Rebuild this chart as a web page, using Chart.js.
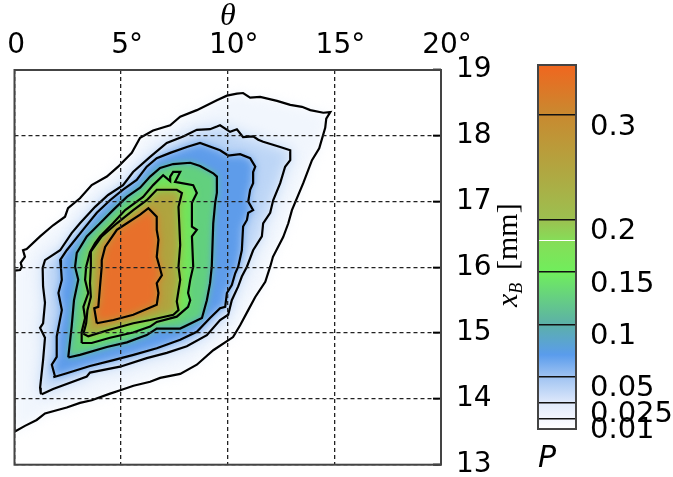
<!DOCTYPE html>
<html>
<head>
<meta charset="utf-8">
<script src="https://cdn.jsdelivr.net/npm/chart.js@4"></script>
<style>
  body { margin: 0; background: #fff; }
  canvas { position: absolute; top: 0; }
  #main { left: 0; }
  #bar { left: 530px; }
</style>
</head>
<body>
<canvas id="main" width="530" height="477"></canvas>
<canvas id="bar" width="143" height="477"></canvas>
<script>
// axes
const thetaTicks = [0, 5, 10, 15, 20];
const thetaLabels = ['0\u00a0', '5°', '10°', '15°', '20°'];
const xbTicks = [13, 14, 15, 16, 17, 18, 19];

// colour bar
const barTicks = [0.01, 0.025, 0.05, 0.1, 0.15, 0.2, 0.3];
const barMax = 0.348;
const barStops = [0, 0.01, 0.025, 0.05, 0.071, 0.1, 0.15, 0.1795, 0.1795, 0.1805, 0.1805, 0.2, 0.3, 0.348];
const barColors = ['#ffffff', '#f3f6fe', '#dfe9fb', '#9fc3f2', '#5a9cec', '#5cb0a8', '#70ee5c', '#86dd58', '#ffffff', '#ffffff', '#86dd58', '#9cc050', '#c88a30', '#f0661f'];

// contours as [theta, xB]
const contour010 = [[0,13.5],[0.49,13.59],[1.04,13.68],[1.43,13.78],[2.45,13.87],[3.07,13.94],[3.62,13.98],[4.48,14.08],[5.03,14.14],[5.58,14.2],[6.36,14.26],[6.83,14.32],[7.77,14.38],[8.55,14.52],[9.32,14.74],[10.25,14.94],[10.58,15.12],[10.96,15.35],[11.29,15.55],[11.76,15.78],[11.99,16.01],[12.12,16.16],[12.6,16.46],[12.84,16.67],[13.01,16.87],[13.54,17.28],[13.95,17.63],[14.29,17.81],[14.57,18.12],[14.62,18.26],[14.81,18.36],[14.48,18.35],[13.87,18.39],[13.48,18.44],[12.93,18.47],[12.31,18.53],[11.52,18.59],[11.05,18.58],[10.72,18.65],[10.43,18.64],[9.96,18.61],[9.49,18.54],[8.55,18.39],[7.77,18.29],[7.3,18.16],[6.5,18.08],[5.89,17.97],[5.5,17.74],[4.86,17.53],[4.33,17.38],[3.62,17.25],[3.07,17.05],[2.51,16.9],[2.37,16.77],[1.81,16.64],[1.2,16.47],[0.57,16.28],[0.4,16.26],[0.49,16.16],[0.29,16.07],[0.34,16.01],[0.26,15.96],[0,15.95]];
const contour025 = [[1.28,14.07],[1.81,14.15],[3.39,14.34],[3.54,14.4],[4.95,14.49],[6.2,14.62],[7.14,14.7],[8.08,14.8],[9.02,14.97],[9.64,15.2],[10.02,15.28],[10.19,15.5],[10.49,15.71],[10.66,15.86],[10.9,16.01],[11.19,16.26],[11.6,16.47],[11.66,16.67],[11.99,16.83],[12.13,17.02],[12.46,17.28],[12.69,17.53],[12.93,17.63],[12.93,17.78],[12.46,17.83],[11.66,17.91],[11.43,17.94],[11.19,17.99],[10.72,17.98],[10.43,18.1],[10.11,18.06],[9.64,18.16],[9.49,18.14],[9.17,18.1],[8.55,18.09],[7.91,17.99],[7.14,17.89],[6.36,17.68],[5.56,17.45],[5.09,17.25],[4.39,17.1],[3.78,16.92],[3.07,16.67],[2.68,16.52],[2.14,16.26],[1.43,16.11],[1.32,15.99],[1.34,15.71],[1.43,15.46],[1.34,15.15],[1.2,15.08],[1.43,14.93],[1.34,14.59],[1.2,14.17],[1.23,14.09]];
const contour050 = [[1.82,14.33],[2.45,14.39],[3.54,14.5],[4.64,14.59],[5.58,14.67],[6.67,14.77],[7.77,14.9],[8.55,15.02],[9.17,15.23],[9.64,15.38],[9.88,15.4],[9.96,15.61],[10.19,15.73],[10.35,15.91],[10.49,16.01],[10.66,16.26],[10.72,16.62],[10.9,16.72],[10.96,16.83],[11.19,16.87],[10.96,17],[11.05,17.18],[11.19,17.28],[11.19,17.45],[11.29,17.53],[11.05,17.66],[10.58,17.72],[10.02,17.7],[9.64,17.78],[8.7,17.89],[8.08,17.83],[7.3,17.74],[6.67,17.66],[6.2,17.53],[5.73,17.33],[5.09,17.18],[4.48,17.02],[3.86,16.83],[3.21,16.57],[2.45,16.26],[2.14,16.11],[2.18,15.99],[2.22,15.81],[2.06,15.61],[2.22,15.35],[1.98,14.95],[1.98,14.64],[1.75,14.52],[1.9,14.34]];
const contour100 = [[2.52,14.63],[3.07,14.67],[4.33,14.79],[5.27,14.86],[6.2,14.97],[6.67,15.07],[7.77,15.07],[8.79,15.23],[9.02,15.5],[9.17,15.76],[9.25,16.01],[9.32,16.67],[9.41,16.98],[9.49,17.13],[9.49,17.38],[9.32,17.43],[8.7,17.54],[8.24,17.59],[7.44,17.57],[6.83,17.51],[6.36,17.38],[5.89,17.21],[5.27,17.07],[4.62,16.87],[4.01,16.67],[3.39,16.47],[2.92,16.22],[2.84,16.01],[2.99,15.81],[2.79,15.5],[2.68,15.1]];
const contour150 = [[3.15,14.85],[3.62,14.85],[4.48,14.93],[5.56,15.01],[6.36,15.1],[6.67,15.17],[7.61,15.25],[8.14,15.4],[8.24,15.5],[8.14,15.61],[8.24,15.81],[8.38,16.01],[8.32,16.47],[8.55,16.57],[8.32,16.62],[8.32,16.98],[8.55,17.13],[8.38,17.25],[7.53,17.3],[7.77,17.45],[7.44,17.45],[7.3,17.38],[7.3,17.31],[6.97,17.4],[6.5,17.25],[6.03,17.07],[5.19,16.87],[4.62,16.67],[4.01,16.47],[3.78,16.37],[3.54,16.23],[3.36,16.01],[3.31,15.81],[3.46,15.61],[3.23,15.4],[3.31,15.23],[3.15,15.02]];
const contour200 = [[3.23,14.99],[3.46,14.95],[4.33,15.04],[5.57,15.15],[6.36,15.2],[7.45,15.28],[7.69,15.35],[7.61,15.48],[7.77,15.81],[7.69,16.01],[7.77,16.34],[7.69,16.92],[7.85,17.13],[7.61,17.18],[6.67,17.18],[6.2,17.02],[5.57,16.87],[4.8,16.67],[4.09,16.47],[3.58,16.24],[3.58,16.01],[3.54,15.76],[3.58,15.55],[3.42,15.35],[3.36,15.15]];
const contour300 = [[3.86,15.15],[4.64,15.2],[5.57,15.28],[6.67,15.43],[6.75,15.61],[6.67,15.76],[6.91,15.88],[6.8,16.01],[6.67,16.16],[6.75,16.42],[6.67,16.57],[6.67,16.77],[6.28,16.9],[5.89,16.8],[5.27,16.67],[4.8,16.57],[4.25,16.31],[4.09,16.11],[4.09,16.01],[4.01,15.71],[3.93,15.4],[3.74,15.38]];

// innermost first, the library draws the last dataset first
const contours = [contour300, contour200, contour150, contour100, contour050, contour025, contour010];
const fillColors = ['#e8702b', '#b0a43f', '#72e65a', '#62d07e', '#5e9cea', '#bcd5f6', '#f1f6fd'];
const fillBlur = [4, 4, 3, 3.5, 4, 7, 6];

const closed = pts => pts.concat([pts[0]]).map(p => ({ x: p[0], y: p[1] }));

const lineSets = contours.map(pts => ({
    data: closed(pts), showLine: true, pointRadius: 0, fill: false,
    borderColor: '#000', borderWidth: 2.2
}));
const fillSets = contours.map((pts, i) => ({
    data: closed(pts), showLine: true, pointRadius: 0, fill: 'shape',
    borderWidth: 0, borderColor: 'transparent', backgroundColor: fillColors[i], blur: fillBlur[i]
}));

// filler paints inside its beforeDatasetDraw, so the blur has to be set just before that
const blurFills = {
    id: 'blurFills',
    beforeDatasetsDraw(chart) {
        const sets = chart.data.datasets;
        chart.ctx.filter = 'blur(' + sets[sets.length - 1].blur + 'px)';
    },
    beforeDatasetDraw(chart) {
        chart.ctx.filter = 'none';
    },
    afterDatasetDraw(chart, args) {
        const next = chart.data.datasets[args.index - 1];
        chart.ctx.filter = next && next.blur ? 'blur(' + next.blur + 'px)' : 'none';
    }
};

const frame = {
    id: 'frame',
    afterDraw(chart) {
        const a = chart.chartArea, ctx = chart.ctx;
        ctx.save();
        ctx.strokeStyle = '#444';
        ctx.lineWidth = 2;
        ctx.strokeRect(a.left, a.top, a.right - a.left, a.bottom - a.top);
        ctx.restore();
    }
};

const sideTitle = {
    id: 'sideTitle',
    afterDraw(chart) {
        const ctx = chart.ctx;
        ctx.save();
        ctx.translate(517, 307);
        ctx.rotate(-Math.PI / 2);
        ctx.fillStyle = '#000';
        ctx.textBaseline = 'alphabetic';
        ctx.font = 'italic 30px "Liberation Serif"';
        ctx.fillText('x', 0, 0);
        let pos = ctx.measureText('x').width;
        ctx.font = 'italic 18px "Liberation Serif"';
        ctx.fillText('B', pos, 5);
        ctx.font = '30px "Liberation Serif"';
        ctx.fillText('[mm]', 37, 0);
        ctx.restore();
    }
};

const noPad = s => { s.paddingLeft = 0; s.paddingRight = 0; s.paddingTop = 0; s.paddingBottom = 0; };

new Chart(document.getElementById('main'), {
    type: 'scatter',
    data: { datasets: lineSets.concat(fillSets) },
    plugins: [blurFills, frame, sideTitle],
    options: {
        responsive: false,
        animation: false,
        layout: { padding: { left: 14.5, right: 0, top: 0, bottom: 12.3 } },
        plugins: { legend: { display: false }, tooltip: { enabled: false } },
        scales: {
            x: {
                type: 'linear', position: 'top', min: 0, max: 20,
                afterFit: s => { s.height = 70; noPad(s); },
                afterBuildTicks: s => { s.ticks = thetaTicks.map(v => ({ value: v })); },
                grid: { z: 1, color: '#222', lineWidth: 1.3, drawTicks: false },
                border: { dash: [4, 3], display: false },
                ticks: {
                    callback: (v) => thetaLabels[thetaTicks.indexOf(v)],
                    font: { family: 'DejaVu Sans', size: 28 }, color: '#000',
                    padding: 7, labelOffset: 6, maxRotation: 0, autoSkip: false
                },
                title: {
                    display: true, text: 'θ', color: '#000',
                    font: { family: 'Liberation Serif', style: 'italic', size: 32 },
                    padding: { top: -3, bottom: 0 }
                }
            },
            y: {
                type: 'linear', position: 'right', min: 13, max: 19,
                afterFit: s => { s.width = 89; noPad(s); },
                afterBuildTicks: s => { s.ticks = xbTicks.map(v => ({ value: v })); },
                grid: {
                    z: 1, color: '#222', lineWidth: 1.3, tickLength: -8, tickColor: '#000',
                    tickWidth: 2, tickBorderDash: []
                },
                border: { dash: [4, 3], display: false },
                ticks: {
                    font: { family: 'DejaVu Sans', size: 28 }, color: '#000',
                    padding: 23, labelOffset: 0, autoSkip: false
                }
            }
        }
    }
});

new Chart(document.getElementById('bar'), {
    type: 'bar',
    data: {
        labels: ['P'],
        datasets: [{
            data: [barMax],
            barPercentage: 1,
            categoryPercentage: 1,
            backgroundColor(c) {
                if (!c.chart.chartArea) return '#fff';
                const y = c.chart.scales.y;
                const g = c.chart.ctx.createLinearGradient(0, y.getPixelForValue(0), 0, y.getPixelForValue(barMax));
                barStops.forEach((v, i) => g.addColorStop(v / barMax, barColors[i]));
                return g;
            }
        }]
    },
    plugins: [frame],
    options: {
        responsive: false,
        animation: false,
        layout: { padding: { left: 8, right: 0, top: 65, bottom: 0 } },
        plugins: { legend: { display: false }, tooltip: { enabled: false } },
        scales: {
            x: {
                afterFit: s => { s.height = 48; noPad(s); },
                grid: { display: false, drawTicks: false },
                border: { display: false },
                ticks: { display: false },
                title: {
                    display: true, text: 'P', color: '#000', align: 'start',
                    font: { family: 'DejaVu Sans', style: 'italic', size: 30 },
                    padding: { top: 2, bottom: 0 }
                }
            },
            y: {
                position: 'right', min: 0, max: barMax,
                afterFit: s => { s.width = 97; noPad(s); },
                afterBuildTicks: s => { s.ticks = barTicks.map(v => ({ value: v })); },
                grid: { z: 1, color: '#111', lineWidth: 1.5, drawTicks: false },
                border: { display: false },
                ticks: {
                    font: { family: 'DejaVu Sans', size: 29 }, color: '#000',
                    padding: 14, labelOffset: 12, autoSkip: false,
                    callback: v => String(v)
                }
            }
        }
    }
});
</script>
</body>
</html>
